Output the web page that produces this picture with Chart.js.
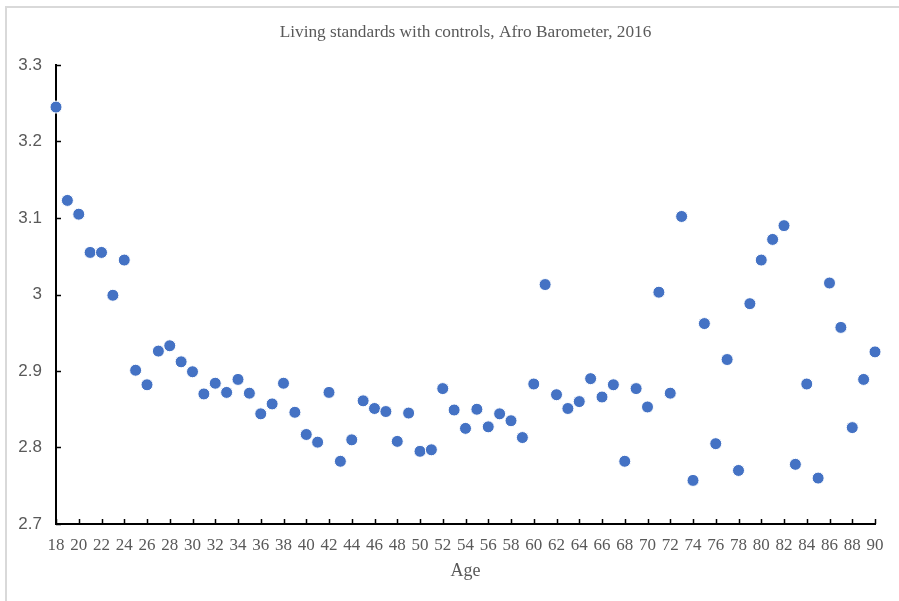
<!DOCTYPE html>
<html>
<head>
<meta charset="utf-8">
<script src="https://cdn.jsdelivr.net/npm/chart.js@4/dist/chart.umd.min.js"></script>
<style>
  html, body { margin: 0; padding: 0; background: #fff; overflow: hidden; }
  #frame { position: absolute; left: 5px; top: 6px; width: 1000px; height: 1000px;
           border-left: 2px solid #d9d9d9; border-top: 2px solid #d9d9d9; }
  #chart { position: absolute; left: 0; top: 0; }
</style>
</head>
<body>
<div id="frame"></div>
<canvas id="chart" width="899" height="601"></canvas>
<script>
// Data
var ages = [18, 19, 20, 21, 22, 23, 24, 25, 26, 27, 28, 29, 30, 31, 32, 33, 34, 35, 36, 37,
            38, 39, 40, 41, 42, 43, 44, 45, 46, 47, 48, 49, 50, 51, 52, 53, 54, 55, 56, 57,
            58, 59, 60, 61, 62, 63, 64, 65, 66, 67, 68, 69, 70, 71, 72, 73, 74, 75, 76, 77,
            78, 79, 80, 81, 82, 83, 84, 85, 86, 87, 88, 89, 90];
var livingStandards = [3.245, 3.123, 3.105, 3.055, 3.055, 2.999, 3.045, 2.901, 2.882, 2.926,
                       2.933, 2.912, 2.899, 2.870, 2.884, 2.872, 2.889, 2.871, 2.844, 2.857,
                       2.884, 2.846, 2.817, 2.807, 2.872, 2.782, 2.810, 2.861, 2.851, 2.847,
                       2.808, 2.845, 2.795, 2.797, 2.877, 2.849, 2.825, 2.850, 2.827, 2.844,
                       2.835, 2.813, 2.883, 3.013, 2.869, 2.851, 2.860, 2.890, 2.866, 2.882,
                       2.782, 2.877, 2.853, 3.003, 2.871, 3.102, 2.757, 2.962, 2.805, 2.915,
                       2.770, 2.988, 3.045, 3.072, 3.090, 2.778, 2.883, 2.760, 3.015, 2.957,
                       2.826, 2.889, 2.925];
var chartTitle = 'Living standards with controls, Afro Barometer, 2016';
var xTitle = 'Age';
var xRange = [18, 90];
var yRange = [2.7, 3.3];

var points = ages.map(function(a, i) { return {x: a, y: livingStandards[i]}; });

var textGray = '#595959';

// inward tick marks, drawn from the scales' own ticks
var innerTicks = {
    id: 'innerTicks',
    afterDraw: function(chart) {
        var ctx = chart.ctx;
        var xs = chart.scales.x, ys = chart.scales.y;
        ctx.save();
        ctx.strokeStyle = '#000';
        ctx.lineWidth = 1.5;
        ctx.beginPath();
        xs.ticks.forEach(function(t) {
            var px = Math.round(xs.getPixelForValue(t.value)) + 0.5;
            ctx.moveTo(px, xs.top);
            ctx.lineTo(px, xs.top - 5);
        });
        ys.ticks.forEach(function(t) {
            var py = Math.round(ys.getPixelForValue(t.value)) + 0.5;
            ctx.moveTo(ys.right, py);
            ctx.lineTo(ys.right + 5, py);
        });
        ctx.stroke();
        ctx.restore();
    }
};

// title centred over the plot area
var plotTitle = {
    id: 'plotTitle',
    afterDraw: function(chart) {
        var ctx = chart.ctx;
        var a = chart.chartArea;
        ctx.save();
        ctx.fillStyle = textGray;
        ctx.font = '17.3px "Liberation Serif", "Times New Roman", serif';
        ctx.textAlign = 'center';
        ctx.textBaseline = 'middle';
        ctx.fillText(chartTitle, (a.left + a.right) / 2, 32);
        ctx.restore();
    }
};

new Chart(document.getElementById('chart'), {
    type: 'scatter',
    data: {
        datasets: [{
            data: points,
            backgroundColor: '#4472C4',
            borderColor: '#ffffff',
            borderWidth: 1,
            pointRadius: 6,
            clip: false
        }]
    },
    options: {
        responsive: false,
        animation: false,
        layout: { padding: { top: 65, left: 0, right: 24, bottom: 0 } },
        plugins: {
            legend: { display: false },
            tooltip: { enabled: false },
            title: { display: false }
        },
        scales: {
            x: {
                type: 'linear',
                min: xRange[0],
                max: xRange[1],
                grid: { display: false, drawTicks: false },
                border: { display: true, color: '#000', width: 2 },
                ticks: {
                    stepSize: 2,
                    autoSkip: false,
                    maxRotation: 0,
                    padding: 11,
                    color: textGray,
                    font: { family: '"Liberation Serif", "Times New Roman", serif', size: 17 }
                },
                title: {
                    display: true,
                    text: xTitle,
                    color: textGray,
                    font: { family: '"Liberation Serif", "Times New Roman", serif', size: 18 },
                    padding: { top: 0, bottom: 19 }
                },
                afterFit: function(scale) { scale.height = 77; }
            },
            y: {
                min: yRange[0],
                max: yRange[1],
                grid: { display: false, drawTicks: false },
                border: { display: true, color: '#000', width: 2 },
                ticks: {
                    stepSize: 0.1,
                    padding: 14,
                    color: textGray,
                    font: { family: '"Liberation Sans", Arial, sans-serif', size: 17 },
                    callback: function(v) { return String(Number(v.toFixed(1))); }
                },
                afterFit: function(scale) { scale.width = 56; }
            }
        }
    },
    plugins: [innerTicks, plotTitle]
});
</script>
</body>
</html>
